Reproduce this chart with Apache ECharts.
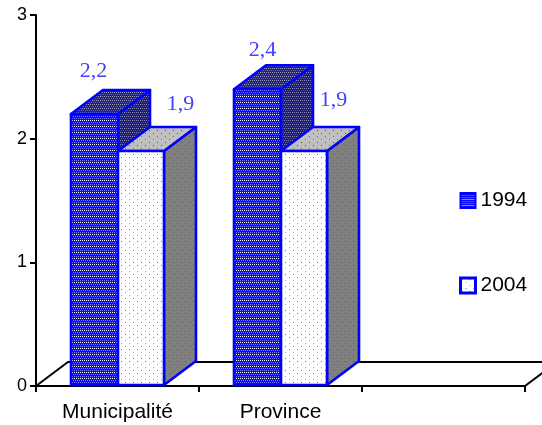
<!DOCTYPE html>
<html><head><meta charset="utf-8">
<style>html,body{margin:0;padding:0;background:#fff}#c{width:542px;height:425px}</style>
<script src="https://cdn.jsdelivr.net/npm/echarts@6/dist/echarts.min.js"></script>
</head><body><div id="c"></div>
<script>
const categories = ['Municipalité', 'Province', ''];
const values1994 = [2.2, 2.4];
const values2004 = [1.9, 1.9];
const labels1994 = ['2,2', '2,4'];
const labels2004 = ['1,9', '1,9'];
const yTicks = [0, 1, 2, 3];

function pat(bg, dots, w, h) {
  const c = document.createElement('canvas');
  c.width = w; c.height = h;
  const g = c.getContext('2d');
  g.fillStyle = bg; g.fillRect(0, 0, w, h);
  dots.forEach(d => { g.fillStyle = d[2]; g.fillRect(d[0], d[1], 1, 1); });
  return { image: c, repeat: 'repeat' };
}
const WH = '#ffffff', LB = '#7c7cff', BL = '#3c3cff';
const front94 = pat('#0a0aff', [[0,0,WH],[2,0,WH],[1,2,LB],[3,2,LB],[0,4,LB],[2,4,LB]], 4, 6);
const side94 = pat('#1c1c74', [[0,0,'#8c8cb8'],[2,0,'#8c8cb8'],[1,2,'#5858a0'],[3,2,'#5858a0']], 4, 4);
const top94 = pat('#22227e', [[0,0,'#a0a0c0'],[2,0,'#a0a0c0'],[1,2,'#6868a8'],[3,2,'#6868a8']], 4, 4);
const front04 = pat('#ffffff', [[1,1,'#5a5aff'],[5,4,'#a8a8ff'],[1,7,'#a8a8ff'],[5,10,'#5a5aff']], 8, 12);
const side04 = pat('#808080', [[1,1,BL],[5,4,'#5a5ac0'],[1,7,'#5a5ac0'],[5,10,BL]], 8, 12);
const top04 = pat('#c0c0c0', [[1,1,BL],[5,4,'#6a6ad0'],[1,7,'#6a6ad0'],[5,10,BL]], 8, 12);

const DX = 32, DY = -24, BW = 47, STROKE = '#0000ff';
const labelOff = { a: [[-1, -43], [5, -39]], b: [[39, -47], [29, -51]] };

function barRender(idx, front, side, top, labels, key) {
  return function (params, api) {
    const i = api.value(0), v = api.value(1);
    const p0 = api.coord([i, 0]), pv = api.coord([i, v]);
    const cx = p0[0];
    const x0 = Math.round(cx + (idx === 0 ? -BW : 0)), x1 = x0 + BW - (idx === 0 ? 0 : 1);
    const y0 = p0[1] - 1, yt = pv[1];
    const poly = (pts, fill) => ({ type: 'polygon', shape: { points: pts },
      style: { fill: fill, stroke: STROKE, lineWidth: 2.6, lineJoin: 'round' } });
    const off = labelOff[key][i];
    return { type: 'group', children: [
      poly([[x1, y0], [x1 + DX, y0 + DY], [x1 + DX, yt + DY], [x1, yt]], side),
      poly([[x0, yt], [x0 + DX, yt + DY], [x1 + DX, yt + DY], [x1, yt]], top),
      poly([[x0, y0], [x1, y0], [x1, yt], [x0, yt]], front),
      { type: 'text', style: { text: labels[i], x: x0 + BW / 2 + off[0], y: yt + off[1],
        align: 'center', verticalAlign: 'middle', fill: '#4040ff',
        font: '22px "Liberation Serif"' } }
    ] };
  };
}
function floorRender(params, api) {
  const c = api.coord([0, 0]);
  const band = api.size([1, 0])[0];
  const ax = c[0] - band / 2, ay = c[1], bx = ax + band * categories.length;
  return { type: 'group', children: [
    { type: 'polyline', shape: { points: [[ax, ay], [ax + DX, ay + DY], [bx + DX, ay + DY]] },
      style: { stroke: '#000', lineWidth: 2, fill: null } },
    { type: 'line', shape: { x1: bx, y1: ay, x2: bx + DX, y2: ay + DY },
      style: { stroke: '#000', lineWidth: 2 } }
  ] };
}
const grid = { left: 36, right: 17, top: 15, bottom: 39 };
const chart = echarts.init(document.getElementById('c'));
const txt = { color: '#000', fontFamily: 'Liberation Sans' };
chart.setOption({
  animation: false,
  backgroundColor: '#fff',
  grid: grid,
  legend: {
    orient: 'vertical', left: 454, top: 185, itemWidth: 15, itemHeight: 15, itemGap: 64,
    textStyle: Object.assign({ fontSize: 21 }, txt),
    data: [
      { name: '1994', icon: 'rect', itemStyle: { color: front94, borderColor: STROKE, borderWidth: 2 } },
      { name: '2004', icon: 'rect', itemStyle: { color: front04, borderColor: STROKE, borderWidth: 3 } }
    ]
  },
  xAxis: { type: 'category', data: categories, boundaryGap: true,
    axisLine: { lineStyle: { color: '#000', width: 2 } },
    axisTick: { show: true, interval: 0, alignWithLabel: false, length: 6, lineStyle: { color: '#000', width: 2 } },
    axisLabel: Object.assign({ fontSize: 21, margin: 16 }, txt), splitLine: { show: false } },
  yAxis: { type: 'value', min: 0, max: 3, interval: 1,
    axisLine: { show: true, lineStyle: { color: '#000', width: 2 } },
    axisTick: { show: true, length: 6, lineStyle: { color: '#000', width: 2 } },
    axisLabel: Object.assign({ fontSize: 18, margin: 9 }, txt), splitLine: { show: false } },
  series: [
    { type: 'custom', name: 'floor', silent: true, renderItem: floorRender, data: [[0, 0]], encode: { x: 0, y: 1 }, z: 1, clip: false },
    { type: 'custom', name: '1994', renderItem: barRender(0, front94, side94, top94, labels1994, 'a'),
      data: values1994.map((v, i) => [i, v]), encode: { x: 0, y: 1 }, itemStyle: { color: front94 }, z: 2, clip: false },
    { type: 'custom', name: '2004', renderItem: barRender(1, front04, side04, top04, labels2004, 'b'),
      data: values2004.map((v, i) => [i, v]), encode: { x: 0, y: 1 }, itemStyle: { color: front04 }, z: 3, clip: false }
  ]
});
</script></body></html>
